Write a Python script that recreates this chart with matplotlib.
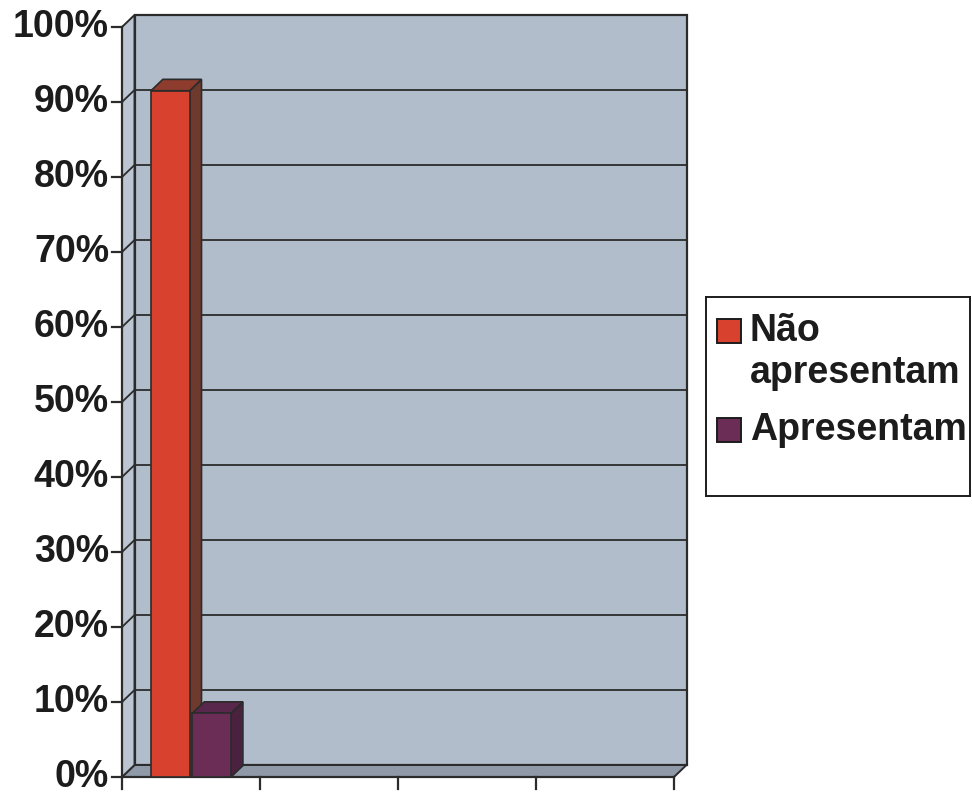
import numpy as np
import matplotlib
matplotlib.use("Agg")
import matplotlib.pyplot as plt
from matplotlib.patches import Polygon

plt.rcParams['font.family'] = ['Liberation Sans', 'DejaVu Sans']

# Data
categories = ["", "", "", ""]
series_names = ["Não\napresentam", "Apresentam"]
series_values = [
    [91.5, np.nan, np.nan, np.nan],
    [8.5, np.nan, np.nan, np.nan],
]
y_ticks = [0, 10, 20, 30, 40, 50, 60, 70, 80, 90, 100]
y_tick_labels = [f"{v}%" for v in y_ticks]

front_colors = ["#d8412e", "#6b2d55"]
top_colors = ["#8e3c2d", "#58274b"]
side_colors = ["#6e3a2e", "#4b2140"]

wall_color = "#b2bdcb"
side_wall_color = "#bcc6d3"
floor_color = "#8f99a7"
edge_color = "#2b2b2b"
text_color = "#1c1c1c"

W, H = 972, 793
fig = plt.figure(figsize=(W / 100, H / 100), dpi=100)
x0, x1 = 122, 674
y0, y1 = 777, 27
ax = fig.add_axes([x0 / W, (H - y0) / H, (x1 - x0) / W, (y0 - y1) / H])

n = len(categories)
ax.set_xlim(0, n)
ax.set_ylim(0, 100)
ax.axis("off")

# depth of the 3-D box, converted from pixels to data units
px_x = n / (x1 - x0)
px_y = 100 / (y0 - y1)
dx, dy = 12.5 * px_x, 12 * px_y


def poly(pts, fc, ec=edge_color, lw=1.2, z=1):
    p = Polygon(pts, closed=True, facecolor=fc, edgecolor=ec, linewidth=lw,
                zorder=z, clip_on=False, joinstyle="miter")
    ax.add_patch(p)


# back wall, floor and left wall
poly([(dx, dy), (n + dx, dy), (n + dx, 100 + dy), (dx, 100 + dy)], wall_color, lw=1.6)
poly([(0, 0), (n, 0), (n + dx, dy), (dx, dy)], floor_color, lw=1.4)
poly([(0, 0), (dx, dy), (dx, 100 + dy), (0, 100)], side_wall_color, lw=1.4)

# gridlines on back and left walls
for v in y_ticks[1:-1]:
    ax.plot([dx, n + dx], [v + dy, v + dy], color=edge_color, lw=1.3,
            zorder=2, clip_on=False)
    ax.plot([0, dx], [v, v + dy], color=edge_color, lw=1.3, zorder=2,
            clip_on=False)

# axes lines with outward ticks
ax.plot([0, 0], [0, 100], color=edge_color, lw=1.6, zorder=3, clip_on=False)
ax.plot([0, n], [0, 0], color=edge_color, lw=1.6, zorder=3, clip_on=False)
tick_x = 10 * px_x
tick_y = 12 * px_y
for v, lab in zip(y_ticks, y_tick_labels):
    ax.plot([-tick_x, 0], [v, v], color=edge_color, lw=1.6, zorder=3,
            clip_on=False)
    ax.text(-tick_x - 3 * px_x, v, lab, ha="right", va="center",
            fontsize=27, fontweight="bold", color=text_color)
for i in range(n + 1):
    ax.plot([i, i], [0, -tick_y], color=edge_color, lw=1.6, zorder=3,
            clip_on=False)

# 3-D clustered bars
bar_w = 0.28
gap = 0.02
bdx, bdy = 0.95 * dx, 0.95 * dy
group_w = len(series_values) * bar_w + (len(series_values) - 1) * gap
z = 5
for ci in range(n):
    left0 = ci + 0.5 - group_w / 2
    for si, vals in enumerate(series_values):
        v = vals[ci]
        if np.isnan(v):
            continue
        l = left0 + si * (bar_w + gap)
        r = l + bar_w
        # side face
        poly([(r, 0), (r + bdx, bdy), (r + bdx, v + bdy), (r, v)],
             side_colors[si], z=z)
        # top face
        poly([(l, v), (r, v), (r + bdx, v + bdy), (l + bdx, v + bdy)],
             top_colors[si], z=z)
        # front face
        ax.bar(l, v, width=bar_w, bottom=0, align="edge",
               color=front_colors[si], edgecolor=edge_color, linewidth=1.2,
               zorder=z + 0.5)
        z += 1

# legend box
lx0, ly0, lx1, ly1 = 706, 297, 970, 496
leg_ax = fig.add_axes([lx0 / W, (H - ly1) / H, (lx1 - lx0) / W, (ly1 - ly0) / H])
leg_ax.set_xlim(lx0, lx1)
leg_ax.set_ylim(ly1, ly0)
leg_ax.set_xticks([])
leg_ax.set_yticks([])
for s in leg_ax.spines.values():
    s.set_linewidth(1.4)
    s.set_color(text_color)

entry_tops = [331, 430]
line_step = 42
for si, name in enumerate(series_names):
    ty = entry_tops[si]
    leg_ax.add_patch(plt.Rectangle((717, ty - 12), 24, 24,
                                   facecolor=front_colors[si],
                                   edgecolor=text_color, linewidth=1.4))
    for k, line in enumerate(name.split("\n")):
        leg_ax.text(750, ty + k * line_step, line, ha="left", va="center",
                    fontsize=27, fontweight="bold", color=text_color)

fig.savefig("out.png", dpi=100)
